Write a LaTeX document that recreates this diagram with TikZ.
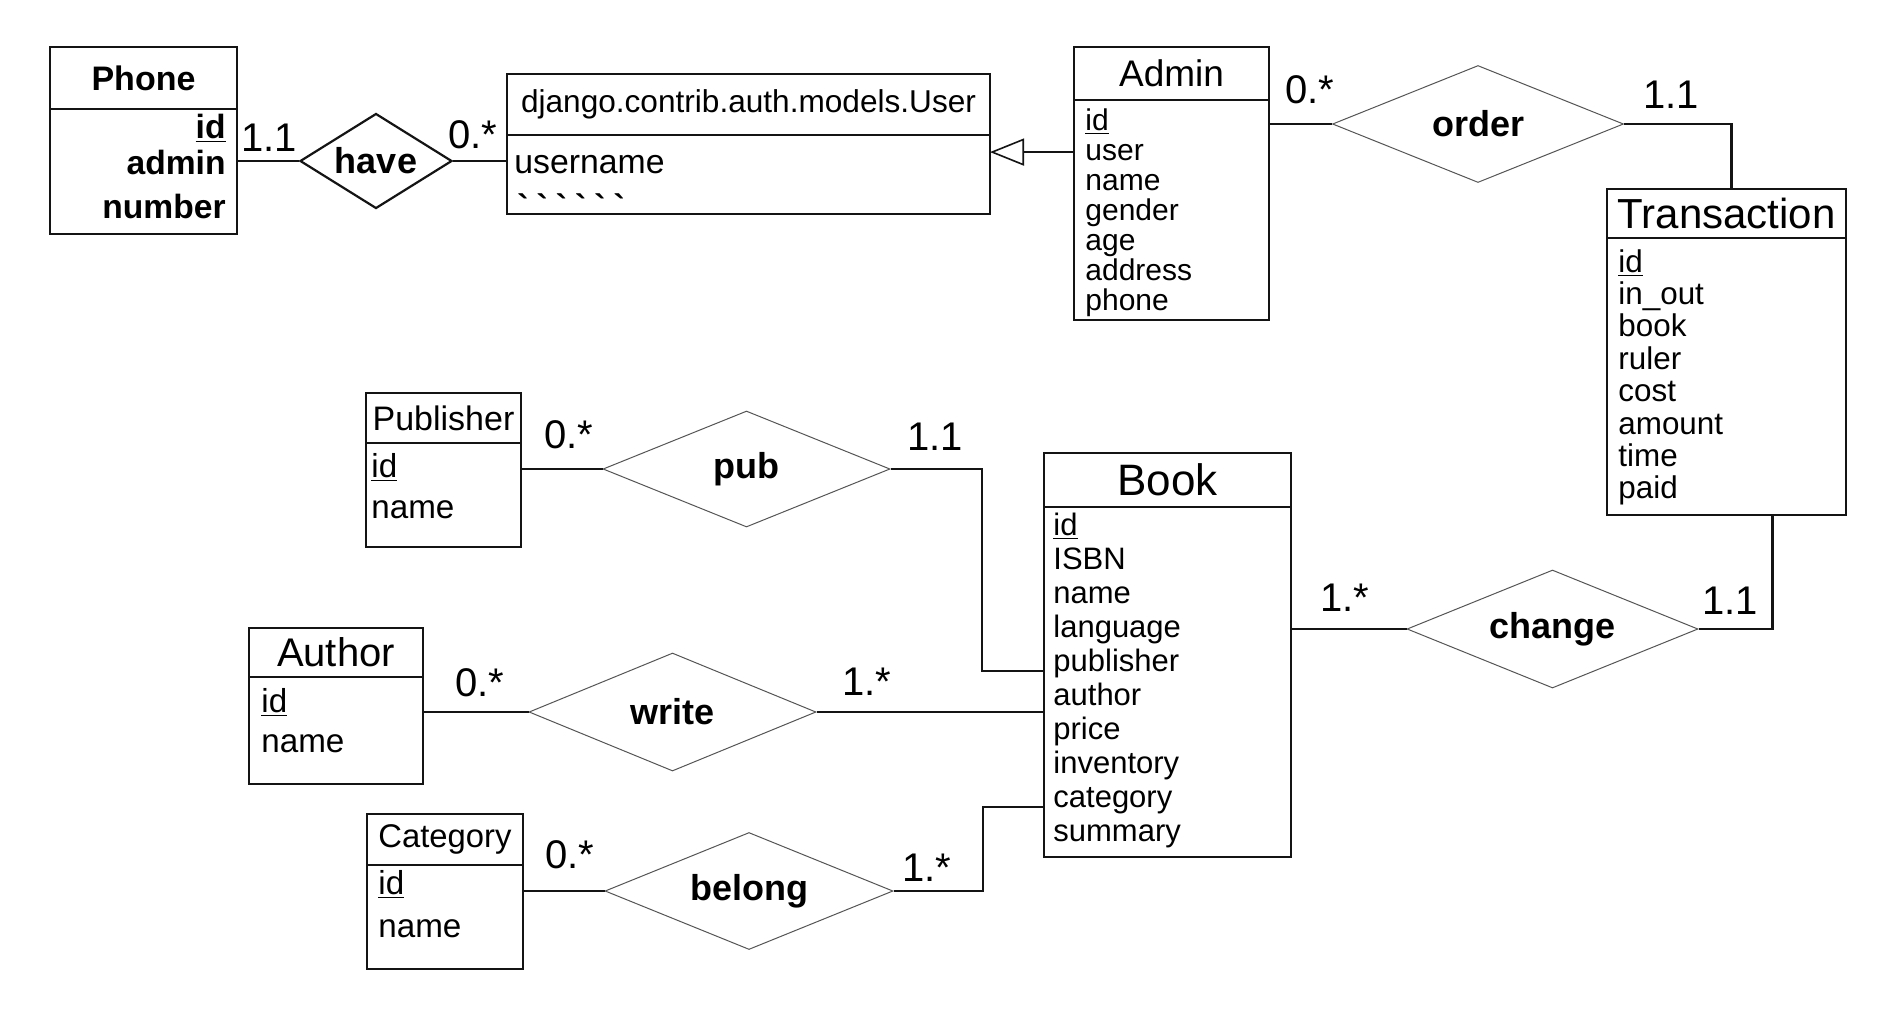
\documentclass[tikz,border=0pt]{standalone}
\usepackage{fontspec}
\setmainfont{Liberation Sans}
\usepackage{tikz}
\usetikzlibrary{arrows.meta,positioning,calc,shapes.geometric}
\definecolor{inkline}{HTML}{141414}
\definecolor{inkthin}{HTML}{555555}
\newcommand{\tickmark}{\textasciigrave\kern4pt}
\tikzset{
  % ---- entity boxes ---------------------------------------------------
  ehead/.style={
    draw=inkline, line width=0.75pt, outer sep=0pt, inner sep=0pt,
    align=center, font=\fontsize{18}{20}\selectfont},
  ebody/.style={draw=inkline, line width=0.75pt, outer sep=0pt, inner sep=0pt},
  eattr/.style={inner sep=0pt, font=\fontsize{15.5}{17}\selectfont},
  ebig/.style={eattr, font=\fontsize{16.6}{20}\selectfont},
  % ---- relations ------------------------------------------------------
  erel/.style={
    diamond, aspect=2.5, draw=inkthin, line width=0.5pt, inner sep=0pt,
    font=\bfseries\fontsize{18}{20}\selectfont},
  ecard/.style={inner sep=0pt, font=\fontsize{20}{22}\selectfont},
  % ---- connections ----------------------------------------------------
  elink/.style={draw=inkline, line width=1.2pt},
  eisa/.style={
    -{Triangle[open, length=17pt, width=13.5pt]}, draw=inkline, line width=0.8pt},
}

\begin{document}
\begin{tikzpicture}[x=0.5pt, y=-0.5pt]
\fill[white] (0,0) rectangle (1896,1014);
\useasboundingbox (0,0) rectangle (1896,1014);

% ---------------- accounts -------------------------------------------
\node[ehead, minimum width=93.5pt, minimum height=31pt,
      font=\bfseries\fontsize{17}{19}\selectfont] (phone) at (143.5,78) {Phone};
\node[ebody, minimum width=93.5pt, minimum height=62.5pt, below=0pt of phone] (phoneBody) {};
\foreach \a/\y [count=\i] in {{\underline{id}}/29, admin/65, number/109}
  \node[eattr, font=\bfseries\fontsize{16.8}{18}\selectfont, anchor=base east] (phone\i)
    at ($(phoneBody.north east)+(-11,\y)$) {\a};

\node[erel, draw=inkline, line width=1.1pt, minimum width=76pt, minimum height=47.5pt]
  (have) at (376,161) {have};

\node[ehead, minimum width=241.5pt, minimum height=30.5pt,
      font=\fontsize{15.8}{18}\selectfont] (user) at (748.5,104.5)
  {django.contrib.auth.models.User};
\node[ebody, minimum width=241.5pt, minimum height=39.5pt, below=0pt of user] (userBody) {};
\node[eattr, font=\fontsize{16.9}{18}\selectfont, anchor=base west] (userName)
  at ($(userBody.north west)+(7,38)$) {username};
\node[eattr, font=\bfseries\fontsize{16.9}{18}\selectfont, anchor=base west]
  (userMore) at ($(userBody.north west)+(10,83)$)
  {\tickmark\tickmark\tickmark\tickmark\tickmark\textasciigrave};

\node[ehead, minimum width=97.5pt, minimum height=26.5pt,
      font=\fontsize{18.5}{20}\selectfont] (admin) at (1171.5,73.5) {Admin};
\node[ebody, minimum width=97.5pt, minimum height=110pt, below=0pt of admin] (adminBody) {};
\foreach \a [count=\i from 0] in {\underline{id}, user, name, gender, age, address, phone}
  \node[eattr, font=\fontsize{15}{16}\selectfont, anchor=base west] (admin\i)
    at ($(adminBody.north west)+(11,30+30*\i)$) {\a};

\node[erel, minimum width=145.5pt, minimum height=58.5pt] (order) at (1478,124) {order};

\node[ehead, minimum width=119.5pt, minimum height=24.5pt,
      font=\fontsize{21}{22}\selectfont] (trans) at (1726.5,213.5) {Transaction};
\node[ebody, minimum width=119.5pt, minimum height=138.5pt, below=0pt of trans] (transBody) {};
\foreach \a [count=\i from 0] in {\underline{id}, in\_out, book, ruler, cost, amount, time, paid}
  \node[eattr, font=\fontsize{15.7}{17}\selectfont, anchor=base west] (trans\i)
    at ($(transBody.north west)+(11,34+32.4*\i)$) {\a};

% ---------------- books ----------------------------------------------
\node[ehead, minimum width=123.5pt, minimum height=27pt,
      font=\fontsize{22}{24}\selectfont] (book) at (1167.5,480) {Book};
\node[ebody, minimum width=123.5pt, minimum height=175pt, below=0pt of book] (bookBody) {};
\foreach \a [count=\i from 0] in {\underline{id}, ISBN, name, language, publisher,
                                   author, price, inventory, category, summary}
  \node[eattr, anchor=base west] (book\i)
    at ($(bookBody.north west)+(9,28+34*\i)$) {\a};

\node[ehead, minimum width=77.5pt, minimum height=25pt,
      font=\fontsize{17}{19}\selectfont] (publisher) at (443.5,418) {Publisher};
\node[ebody, minimum width=77.5pt, minimum height=52pt, below=0pt of publisher] (publisherBody) {};
\foreach \a/\y [count=\i] in {{\underline{id}}/34, name/75}
  \node[ebig, anchor=base west] (publisher\i) at ($(publisherBody.north west)+(5,\y)$) {\a};

\node[ehead, minimum width=87pt, minimum height=24.5pt,
      font=\fontsize{20}{22}\selectfont] (author) at (336,652.5) {Author};
\node[ebody, minimum width=87pt, minimum height=53.5pt, below=0pt of author] (authorBody) {};
\foreach \a/\y [count=\i] in {{\underline{id}}/35, name/75}
  \node[ebig, anchor=base west] (author\i) at ($(authorBody.north west)+(12,\y)$) {\a};

\node[ehead, minimum width=78pt, minimum height=25.5pt,
      font=\fontsize{16.4}{18}\selectfont] (category) at (445,839.5) {Category};
\node[ebody, minimum width=78pt, minimum height=52pt, below=0pt of category] (categoryBody) {};
\foreach \a/\y [count=\i] in {{\underline{id}}/29, name/72}
  \node[ebig, anchor=base west] (category\i) at ($(categoryBody.north west)+(11,\y)$) {\a};

\node[erel, minimum width=143.5pt, minimum height=58pt] (pub) at (746.5,469) {pub};
\node[erel, minimum width=143.5pt, minimum height=59pt] (write) at (672.5,712) {write};
\node[erel, minimum width=144pt, minimum height=58.5pt] (belong) at (749,891) {belong};
\node[erel, minimum width=145.5pt, minimum height=59pt] (change) at (1552.5,629) {change};

% ---------------- links ----------------------------------------------
\draw[elink] (have.west) -- (have.west -| phoneBody.east);
\draw[elink] (have.east) -- (have.east -| userBody.west);
\draw[eisa] (adminBody.west |- admin1.west) -- (userBody.east |- admin1.west);
\draw[elink] (order.west) -- (order.west -| adminBody.east);
\draw[elink] (order.east) -| ([xshift=2.5pt]trans.north);

\draw[elink] (pub.west) -- (pub.west -| publisherBody.east);
\draw[elink] (pub.east) -| ($(bookBody.west |- book4.base)+(-62,0)$)
  -- (bookBody.west |- book4.base);
\draw[elink] (write.west) -- (write.west -| authorBody.east);
\draw[elink] (write.east) -- (write.east -| bookBody.west);
\draw[elink] (belong.west) -- (belong.west -| categoryBody.east);
\draw[elink] (belong.east) -| ($(bookBody.west |- book8.base)+(-61,0)$)
  -- (bookBody.west |- book8.base);
\draw[elink] (change.west) -- (change.west -| bookBody.east);
\draw[elink] (change.east) -| ([xshift=23pt]transBody.south);

% ---------------- multiplicities -------------------------------------
\node[ecard] (cHaveL) at (269,138) {1.1};
\node[ecard] (cHaveR) at (473,135) {0.*};
\node[ecard] (cOrderL) at (1310,90) {0.*};
\node[ecard] (cOrderR) at (1671,95) {1.1};
\node[ecard] (cPubL) at (569,435) {0.*};
\node[ecard] (cPubR) at (935,437) {1.1};
\node[ecard] (cWriteL) at (480,683) {0.*};
\node[ecard] (cWriteR) at (867,682) {1.*};
\node[ecard] (cBelongL) at (570,855) {0.*};
\node[ecard] (cBelongR) at (927,868) {1.*};
\node[ecard] (cChangeL) at (1345,598) {1.*};
\node[ecard] (cChangeR) at (1730,601) {1.1};

\end{tikzpicture}
\end{document}
